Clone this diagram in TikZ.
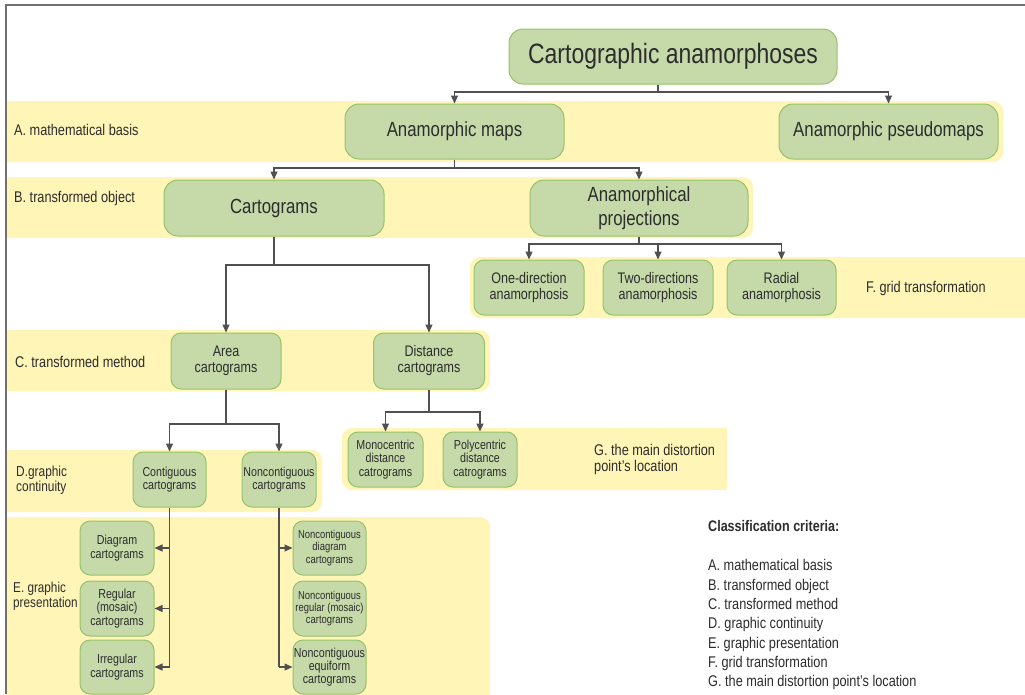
\documentclass[tikz,border=0pt]{standalone}
\usepackage{fontspec}
\setmainfont[FakeStretch=0.82]{Liberation Sans}
\usetikzlibrary{arrows.meta,calc}
\definecolor{bandy}{RGB}{255,245,183}
\definecolor{nfill}{RGB}{197,217,169}
\definecolor{nline}{RGB}{150,194,104}
\definecolor{txt}{RGB}{45,45,45}
\definecolor{lnk}{RGB}{80,80,80}
\definecolor{frm}{RGB}{112,112,112}
\begin{document}
\begin{tikzpicture}[x=1pt,y=-1pt,
  box/.style={draw=nline, line width=1pt, fill=nfill, rounded corners=#1, align=center, text=txt, inner sep=0pt},
  box/.default=10pt,
  ftitle/.style={font=\fontsize{28}{30}\selectfont},
  fbig/.style={font=\fontsize{20.5}{24}\selectfont},
  fmid/.style={font=\fontsize{15.3}{16}\selectfont},
  fsmall/.style={font=\fontsize{13}{13.3}\selectfont},
  ftiny/.style={font=\fontsize{11.5}{12.2}\selectfont},
  lab/.style={anchor=west, align=left, text=txt, inner sep=0pt, font=\fontsize{15.5}{16}\selectfont},
  band/.style={fill=bandy, rounded corners=10pt},
  link/.style={draw=lnk, line width=1.1pt},
  arr/.style={link, -{Triangle[length=8pt,width=7pt]}}
]
\useasboundingbox (0,0) rectangle (1025,694);
\fill[white] (0,0) rectangle (1025,694);

% bands
\begin{scope}
\clip (6,0) rectangle (1025,694);
\fill[band] (-20,101) rectangle (1003,162);
\fill[band] (-20,177) rectangle (753,238);
\fill[band] (470,257) rectangle (1045,318);
\fill[band] (-20,330) rectangle (490,391);
\fill[band] (342,428) rectangle (727,490);
\fill[fill=bandy] (500,428) rectangle (727,490);
\fill[band] (-20,450) rectangle (322,512);
\fill[band] (-20,517) rectangle (490,720);
\end{scope}

% frame
\draw[frm, line width=1.8pt] (6,694) -- (6,5) -- (1025,5);

% nodes
\node[box=14pt, ftitle, minimum width=328pt, minimum height=55pt] (title) at (673,56.5) {Cartographic anamorphoses};
\node[box=14pt, fbig, minimum width=219pt, minimum height=55pt] (maps) at (454.5,131.5) {Anamorphic maps};
\node[box=14pt, fbig, minimum width=219pt, minimum height=55pt] (pseudo) at (888.5,131.5) {Anamorphic pseudomaps};
\node[box=14pt, fbig, minimum width=220pt, minimum height=56pt] (carto) at (274,208) {Cartograms};
\node[box=14pt, fbig, minimum width=218pt, minimum height=56pt] (proj) at (639,208) {Anamorphical\\projections};

\node[box, fmid, minimum width=110pt, minimum height=55pt] (one) at (529,287.5) {One-direction\\anamorphosis};
\node[box, fmid, minimum width=110pt, minimum height=55pt] (two) at (658,287.5) {Two-directions\\anamorphosis};
\node[box, fmid, minimum width=109pt, minimum height=55pt] (radial) at (781.5,287.5) {Radial\\anamorphosis};

\node[box, fmid, minimum width=110pt, minimum height=56pt] (area) at (226,361) {Area\\cartograms};
\node[box, fmid, minimum width=111pt, minimum height=56pt] (dist) at (429,361) {Distance\\cartograms};

\node[box, fsmall, minimum width=73pt, minimum height=55pt] (contig) at (169.5,479.5) {Contiguous\\cartograms};
\node[box, fsmall, minimum width=74pt, minimum height=55pt] (noncontig) at (279,479.5) {Noncontiguous\\cartograms};

\node[box, fsmall, minimum width=75pt, minimum height=55pt] (mono) at (385.5,459.5) {Monocentric\\distance\\catrograms};
\node[box, fsmall, minimum width=74pt, minimum height=55pt] (poly) at (480,459.5) {Polycentric\\distance\\catrograms};

\node[box, fsmall, minimum width=74pt, minimum height=54pt] (diag) at (117,548) {Diagram\\cartograms};
\node[box, fsmall, minimum width=74pt, minimum height=55pt] (reg) at (117,608.5) {Regular\\(mosaic)\\cartograms};
\node[box, fsmall, minimum width=74pt, minimum height=54pt] (irr) at (117,667) {Irregular\\cartograms};

\node[box, ftiny, minimum width=73pt, minimum height=54pt] (ndiag) at (329.5,548) {Noncontiguous\\diagram\\cartograms};
\node[box, ftiny, minimum width=73pt, minimum height=55pt] (nreg) at (329.5,608.5) {Noncontiguous\\regular (mosaic)\\cartograms};
\node[box, fsmall, minimum width=73pt, minimum height=54pt] (nequi) at (329.5,667) {Noncontiguous\\equiform\\cartograms};

% row labels
\node[lab] (la) at (14,130) {A. mathematical basis};
\node[lab] (lb) at (14,198) {B. transformed object};
\node[lab] (lc) at (15,362) {C. transformed method};
\node[lab, font=\fontsize{14.5}{14.5}\selectfont] (ld) at (16,480) {D.graphic\\continuity};
\node[lab, font=\fontsize{14.3}{15}\selectfont] (le) at (13,596) {E. graphic\\presentation};
\node[lab] (lf) at (866,288) {F. grid transformation};
\node[lab] (lg) at (594,459) {G. the main distortion\\point's location};

% criteria
\node[lab, font=\bfseries\fontsize{15.3}{16}\selectfont] (crit) at (708,526) {Classification criteria:};
\node[lab, anchor=north west, font=\fontsize{15.5}{19.33}\selectfont] (critlist) at (708,559.5) {A. mathematical basis\\B. transformed object\\C. transformed method\\D. graphic continuity\\E. graphic presentation\\F. grid transformation\\G. the main distortion point's location};

% connectors
\coordinate (j1) at (658,92);
\draw[link] (title.south -| j1) -- (j1);
\draw[arr] (j1) -| (maps.north);
\draw[arr] (j1) -| (pseudo.north);

\coordinate (j2) at (454.5,168);
\draw[link] (maps.south) -- (j2);
\draw[arr] (j2) -| (carto.north);
\draw[arr] (j2) -| (proj.north);

\coordinate (j3) at (639,244);
\draw[link] (proj.south) -- (j3);
\draw[arr] (j3) -| (one.north);
\draw[arr] (j3) -| (two.north);
\draw[arr] (j3) -| (radial.north);

\coordinate (j4) at (274,265);
\draw[link] (carto.south) -- (j4);
\draw[arr] (j4) -| (area.north);
\draw[arr] (j4) -| (dist.north);

\coordinate (j5) at (226,424);
\draw[link] (area.south) -- (j5);
\draw[arr] (j5) -| (contig.north);
\draw[arr] (j5) -| (noncontig.north);

\coordinate (j6) at (429,412);
\draw[link] (dist.south) -- (j6);
\draw[arr] (j6) -| (mono.north);
\draw[arr] (j6) -| (poly.north);

\coordinate (t1) at (contig.south |- irr.east);
\draw[link] (contig.south) -- (t1);
\draw[arr] (contig.south |- diag.east) -- (diag.east);
\draw[arr] (contig.south |- reg.east) -- (reg.east);
\draw[arr] (t1) -- (irr.east);

\coordinate (t2) at (noncontig.south |- nequi.west);
\draw[link] (noncontig.south) -- (t2);
\draw[arr] (noncontig.south |- ndiag.west) -- (ndiag.west);
\draw[arr] (t2) -- (nequi.west);
\end{tikzpicture}
\end{document}
